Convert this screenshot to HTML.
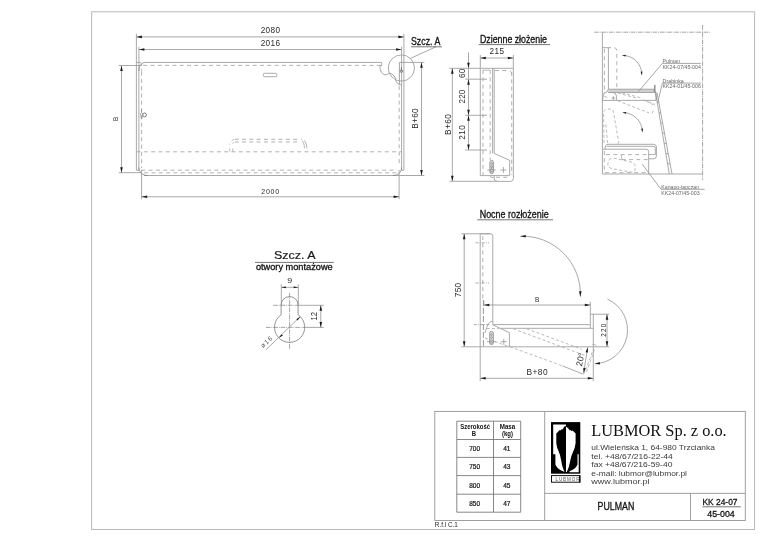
<!DOCTYPE html>
<html lang="pl">
<head>
<meta charset="utf-8">
<title>PULMAN KK 24-07 / 45-004</title>
<style>
html,body{margin:0;padding:0;background:#fff;}
body{width:768px;height:543px;overflow:hidden;}
svg{display:block;will-change:transform;}
text{font-family:"Liberation Sans",sans-serif;}
.f{fill:none;stroke:#b8b8b8;stroke-width:1;}
.f2{fill:none;stroke:#959595;stroke-width:0.9;}
.tb1{fill:none;stroke:#6a6a6a;stroke-width:0.8;}
.o{fill:none;stroke:#a0a0a0;stroke-width:0.9;}
.o2{fill:none;stroke:#8a8a8a;stroke-width:0.7;}
.o3{fill:none;stroke:#8a8a8a;stroke-width:1.4;}
.d{fill:none;stroke:#989898;stroke-width:0.85;}
.d2{fill:none;stroke:#666;stroke-width:0.9;}
.h{fill:none;stroke:#a8a8a8;stroke-width:0.9;stroke-dasharray:4 3.3;}
.h2{fill:none;stroke:#a8a8a8;stroke-width:0.8;}
.h3{fill:none;stroke:#a8a8a8;stroke-width:0.8;stroke-dasharray:3 2.2;}
.h4{fill:none;stroke:#6a6a6a;stroke-width:0.7;stroke-dasharray:6 2;}
.c{fill:none;stroke:#808080;stroke-width:0.7;stroke-dasharray:4.6 0.9 0.9 0.9;}
.c2{fill:none;stroke:#888;stroke-width:0.7;stroke-dasharray:3 1.2 0.8 1.2;}
.a{fill:#1a1a1a;stroke:none;}
.fill{fill:#cfcfcf;stroke:none;}
.o4{fill:none;stroke:#6c6c6c;stroke-width:0.9;}
.od{fill:none;stroke:#707070;stroke-width:0.65;}
.ok{fill:none;stroke:#787878;stroke-width:0.8;}
.ts3{fill:#555;}
.sl{fill:#e4e4e4;stroke:#808080;stroke-width:0.8;}
.t{fill:#2a2a2a;}
.tb{fill:#111;stroke:#111;stroke-width:0.3;}
.ts{fill:#666;}
.ts2{fill:#555;}
.tt{fill:#111;stroke:#111;stroke-width:0.2;}
.t2{fill:#222;}
.tth{fill:#111;font-weight:bold;}
.tm{fill:#1a1a1a;stroke:#1a1a1a;stroke-width:0.2;}
.ta{fill:#3a3a3a;}
.serif{font-family:"Liberation Serif",serif;fill:#111;}
</style>
</head>
<body>
<svg width="768" height="543" viewBox="0 0 768 543">
<rect x="0" y="0" width="768" height="543" fill="#fff"/>
<rect class="f" x="91.65" y="11.8" width="662.95" height="517.7"/>
<line class="o" x1="136.40" y1="33.80" x2="136.40" y2="170.30"/>
<line class="o" x1="403.90" y1="33.80" x2="403.90" y2="170.30"/>
<line class="o" x1="138.90" y1="46.80" x2="138.90" y2="170.30"/>
<line class="o" x1="401.60" y1="46.80" x2="401.60" y2="170.30"/>
<line class="d" x1="136.40" y1="36.90" x2="403.90" y2="36.90"/>
<polygon class="a" points="136.40,36.90 141.90,35.60 141.90,38.20"/>
<polygon class="a" points="403.90,36.90 398.40,38.20 398.40,35.60"/>
<line class="d" x1="138.90" y1="49.50" x2="401.60" y2="49.50"/>
<polygon class="a" points="138.90,49.50 144.40,48.20 144.40,50.80"/>
<polygon class="a" points="401.60,49.50 396.10,50.80 396.10,48.20"/>
<text class="t" x="270.30" y="33.30" font-size="8.2" text-anchor="middle" textLength="19.30" lengthAdjust="spacing">2080</text>
<text class="t" x="270.30" y="45.80" font-size="8.2" text-anchor="middle" textLength="19.30" lengthAdjust="spacing">2016</text>
<path class="o" d="M136.4,62.45 H140.4 Q141.6,63.5 142,65.2 M145.25,62.45 H381.7 V65.5"/>
<path class="od" d="M381.7,65.5 H380.2 C379.5,69 381,73.5 384.8,74.8 C387,75.2 388,73.6 389.3,73.4 C391,73.3 392.5,74.3 394,76 C395.8,78 395.5,80 396.3,81.8 C397,83.3 398.5,84 399.6,84.6"/>
<path class="o" d="M144,175.5 H396"/>
<path class="od" d="M138.9,167.5 C138.9,172 142.5,175.5 147.5,175.5 M401.6,167.5 C401.6,172 398,175.5 393,175.5"/>
<path class="od" d="M138.9,71 C138.9,66 141.5,62.5 145.25,62.45"/>
<line class="o" x1="136.40" y1="170.30" x2="138.90" y2="170.30"/>
<line class="o" x1="401.60" y1="170.30" x2="403.90" y2="170.30"/>
<path class="od" d="M399.4,84.8 V62.4"/>
<path class="o" d="M399.4,62.4 H424.3 M399.4,84.8 H401.6"/>
<line class="d" x1="395.00" y1="175.50" x2="424.30" y2="175.50"/>
<path class="h" d="M143.2,65.4 H381"/>
<path class="h" d="M141.6,71.6 V168"/>
<path class="h" d="M399.2,86 V165"/>
<path class="h2" d="M141.7,68.8 V71.6"/>
<path class="h" d="M141.3,170.2 H397"/>
<path class="h" d="M144.2,172.8 H397"/>
<path class="h" d="M136.6,151.8 H402"/>
<path class="h" d="M234.7,139.3 H298 M234.7,142 H298"/>
<path class="h2" d="M229.8,151.6 V148.3 M232.7,151.6 V148.3 M229.7,144.6 V143.8 M231.6,141 Q232.6,139.8 233.8,139.5 M232.6,143.6 Q233.3,142.5 234,142.2"/>
<path class="h2" d="M301,139.3 H301.8 M302.3,140.6 Q304.4,143.5 304.6,148.3 M304.4,140.4 Q306.8,143.5 307,148.5"/>
<rect class="o" x="263.4" y="73.3" width="13.4" height="3.4" rx="1"/>
<circle class="o4" cx="144.6" cy="114.9" r="1.9"/>
<path class="o2" d="M141.5,109 V113 M140.6,113 Q140.4,116.5 141.6,119 Q142.8,116.5 142.6,113"/>
<circle class="o4" cx="401.4" cy="71.2" r="1.2"/>
<path class="o4" d="M401.4,67.4 V70"/>
<line class="d" x1="118.70" y1="65.50" x2="141.60" y2="65.50"/>
<line class="d" x1="118.70" y1="172.70" x2="141.60" y2="172.70"/>
<line class="d" x1="121.50" y1="65.50" x2="121.50" y2="172.70"/>
<polygon class="a" points="121.50,65.50 122.80,71.00 120.20,71.00"/>
<polygon class="a" points="121.50,172.70 120.20,167.20 122.80,167.20"/>
<text class="t" x="0" y="0" font-size="6.3" text-anchor="middle" transform="translate(118.30,119.00) rotate(-90)">B</text>
<line class="d" x1="141.60" y1="170.00" x2="141.60" y2="199.20"/>
<line class="d" x1="399.10" y1="170.00" x2="399.10" y2="199.20"/>
<line class="d" x1="141.60" y1="196.80" x2="399.10" y2="196.80"/>
<polygon class="a" points="141.60,196.80 147.10,195.50 147.10,198.10"/>
<polygon class="a" points="399.10,196.80 393.60,198.10 393.60,195.50"/>
<text class="t" x="270.20" y="194.00" font-size="7" text-anchor="middle" textLength="18.00" lengthAdjust="spacing">2000</text>
<line class="d" x1="421.50" y1="62.30" x2="421.50" y2="175.50"/>
<polygon class="a" points="421.50,62.30 422.80,67.80 420.20,67.80"/>
<polygon class="a" points="421.50,175.50 420.20,170.00 422.80,170.00"/>
<text class="t" x="0" y="0" font-size="8.3" text-anchor="middle" transform="translate(418.20,118.50) rotate(-90)" textLength="20.50" lengthAdjust="spacing">B+60</text>
<circle class="o" cx="401.4" cy="68" r="13.1"/>
<line class="d" x1="410.60" y1="58.30" x2="436.00" y2="46.80"/>
<line class="d2" x1="411.00" y1="46.80" x2="442.00" y2="46.80"/>
<text class="tb" x="411.00" y="45.00" font-size="10.3" text-anchor="start" textLength="29.30" lengthAdjust="spacingAndGlyphs">Szcz. A</text>
<text class="tb" x="480.00" y="43.00" font-size="10.2" text-anchor="start" textLength="67.00" lengthAdjust="spacingAndGlyphs">Dzienne złożenie</text>
<line class="d2" x1="478.70" y1="44.60" x2="550.00" y2="44.60"/>
<text class="t" x="496.70" y="54.20" font-size="8.2" text-anchor="middle" textLength="14.50" lengthAdjust="spacing">215</text>
<line class="d" x1="480.30" y1="55.00" x2="480.30" y2="68.30"/>
<line class="d" x1="513.30" y1="55.00" x2="513.30" y2="68.30"/>
<line class="d" x1="480.30" y1="58.00" x2="513.30" y2="58.00"/>
<polygon class="a" points="480.30,58.00 485.80,56.70 485.80,59.30"/>
<polygon class="a" points="513.30,58.00 507.80,59.30 507.80,56.70"/>
<line class="d" x1="468.50" y1="52.50" x2="468.50" y2="150.00"/>
<polygon class="a" points="468.50,68.30 467.20,62.80 469.80,62.80"/>
<polygon class="a" points="468.50,79.20 469.80,84.70 467.20,84.70"/>
<polygon class="a" points="468.50,115.30 467.20,109.80 469.80,109.80"/>
<polygon class="a" points="468.50,115.30 469.80,120.80 467.20,120.80"/>
<polygon class="a" points="468.50,150.00 467.20,144.50 469.80,144.50"/>
<line class="d" x1="449.50" y1="68.30" x2="480.30" y2="68.30"/>
<line class="d" x1="465.30" y1="79.20" x2="487.00" y2="79.20"/>
<line class="d" x1="465.30" y1="115.30" x2="487.00" y2="115.30"/>
<line class="d" x1="465.30" y1="150.00" x2="487.00" y2="150.00"/>
<text class="t" x="0" y="0" font-size="8.2" text-anchor="middle" transform="translate(465.30,73.40) rotate(-90)" textLength="9.20" lengthAdjust="spacing">60</text>
<text class="t" x="0" y="0" font-size="8.2" text-anchor="middle" transform="translate(465.30,96.60) rotate(-90)" textLength="13.60" lengthAdjust="spacingAndGlyphs">220</text>
<text class="t" x="0" y="0" font-size="8.2" text-anchor="middle" transform="translate(465.30,132.50) rotate(-90)" textLength="14.50" lengthAdjust="spacing">210</text>
<line class="d" x1="452.30" y1="68.30" x2="452.30" y2="181.30"/>
<polygon class="a" points="452.30,68.30 453.60,73.80 451.00,73.80"/>
<polygon class="a" points="452.30,181.30 451.00,175.80 453.60,175.80"/>
<line class="d" x1="449.50" y1="181.30" x2="497.00" y2="181.30"/>
<text class="t" x="0" y="0" font-size="8.3" text-anchor="middle" transform="translate(450.80,124.60) rotate(-90)" textLength="20.80" lengthAdjust="spacing">B+60</text>
<path class="o" d="M480.3,68.3 V175.6 H509.7 V160.4 L494.2,153.4"/>
<line class="o" x1="480.30" y1="68.30" x2="513.30" y2="68.30"/>
<line class="o" x1="492.60" y1="68.30" x2="492.60" y2="153.40"/>
<line class="o" x1="494.20" y1="68.30" x2="494.20" y2="153.40"/>
<path class="o" d="M513.4,68.3 V178.4 Q513.4,181.4 510.4,181.4 H497.2 Q494.2,181.4 494.2,178.4 V175.6"/>
<path class="o" d="M490.2,175.6 Q490.4,177.6 493.5,177.8"/>
<path class="h" d="M483,70 V175"/>
<path class="h" d="M490.2,70 V160"/>
<path class="h" d="M511.7,72 V175"/>
<path class="h" d="M496,177.3 H510"/>
<path class="h" d="M495,70.5 H508 Q511.7,70.5 511.7,74"/>
<path class="h2" d="M483,70.2 H490"/>
<rect class="sl" x="489.9" y="160.4" width="3.5" height="13.3" rx="1.75"/>
<circle class="o2" cx="491.7" cy="163.6" r="0.9"/><circle class="o2" cx="491.7" cy="166.6" r="0.9"/><circle class="o2" cx="491.7" cy="170.6" r="1.5"/>
<path class="c2" d="M487.3,170 H495.8 M491.7,167 V173"/>
<path class="o2" d="M500.4,170 H506.4 M503.4,167 V173"/>
<line class="c" x1="594.20" y1="32.20" x2="710.70" y2="32.20"/>
<line class="c" x1="702.60" y1="25.00" x2="702.60" y2="180.00"/>
<line class="o" x1="602.40" y1="32.20" x2="602.40" y2="174.00"/>
<line class="o" x1="602.40" y1="174.00" x2="702.60" y2="174.00"/>
<line class="o" x1="602.40" y1="47.70" x2="611.00" y2="47.70"/>
<line class="o" x1="608.40" y1="47.70" x2="608.40" y2="89.20"/>
<path class="h" d="M604.4,49 V92"/>
<path class="h" d="M614.5,47.7 Q616.8,48 616.8,51 V89"/>
<path class="d" d="M622.27,55.41 A19.00,19.00 0 0 1 641.79,75.00"/>
<polygon class="a" points="622.27,55.41 625.73,54.72 625.59,56.62"/>
<polygon class="a" points="641.79,75.00 640.59,71.68 642.49,71.54"/>
<path class="d" d="M622.70,112.50 A19.90,19.90 0 0 1 642.50,131.98"/>
<polygon class="a" points="622.70,112.50 626.19,111.93 625.98,113.82"/>
<polygon class="a" points="642.50,131.98 641.13,128.73 643.01,128.49"/>
<rect class="fill" x="608.4" y="89.2" width="46.4" height="3.3"/>
<path class="o" d="M608.4,89.2 H654.8 M608.4,92.5 H654.8"/>
<line class="o" x1="602.40" y1="100.40" x2="656.00" y2="100.40"/>
<path class="o" d="M602.4,100.4 L604,92.8 L607,92 L608.4,89.2 M608.4,92.5 H613 Q616.4,93 616.4,96 V100.4"/>
<line class="o3" x1="654.80" y1="85.00" x2="654.80" y2="92.50"/>
<path class="o2" d="M613.3,96.2 V100 M611.6,98 H615"/>
<path class="h3" d="M618,93 L636,98 M622,92.8 L640,97.6 M604.5,96.5 L608,97.6"/>
<path class="h3" d="M617.7,100.8 L649.3,113 M643.5,99.8 L655,104.5 M646,101 L655.5,106"/>
<path class="h3" d="M652.2,113.4 L653.6,109.5"/>
<line class="o" x1="655.50" y1="92.50" x2="669.30" y2="174.00"/>
<line class="o" x1="657.00" y1="92.50" x2="672.00" y2="174.00"/>
<line class="o2" x1="657.23" y1="102.29" x2="658.88" y2="102.99"/>
<line class="o2" x1="658.95" y1="112.47" x2="660.75" y2="113.17"/>
<line class="o2" x1="660.67" y1="122.66" x2="662.62" y2="123.36"/>
<line class="o2" x1="662.40" y1="132.85" x2="664.50" y2="133.55"/>
<line class="o2" x1="664.12" y1="143.04" x2="666.38" y2="143.74"/>
<line class="o2" x1="665.85" y1="153.22" x2="668.25" y2="153.93"/>
<line class="o2" x1="667.57" y1="163.41" x2="670.12" y2="164.11"/>
<path class="od" d="M653.4,90.6 L656,92.6 V100.2"/>
<path class="h3" d="M604,143 L603.6,113 Q603.8,109.4 607,109.2 L610,109 Q613.2,109 613.6,112.5 L618.5,141.5 Q619,144 616.5,144.6"/>
<path class="h3" d="M607.7,143 L605.6,122"/>
<path class="o" d="M605,149.2 Q605,144.3 608,144.3 H653.6 Q656.4,144.3 656.4,147 V156 Q656.4,158.8 653.6,158.8 H648.7"/>
<path class="o2" d="M606.5,146.3 H653 Q655.3,146.3 655.3,148.2 V154.6 H648.7"/>
<path class="o" d="M602.4,149.2 H646.2 Q648.7,149.2 648.7,151.7 V174"/>
<path class="h" d="M606,154.6 H648 M621.8,159.6 H648 M605,172.7 H648"/>
<path class="h" d="M604.3,151 V173"/>
<path class="h2" d="M621.6,155 V158.5 Q621.6,159.6 623,159.6"/>
<path class="h3" d="M609,160 Q611,157.6 615,158.4 L631,162 Q635.5,163.2 635.3,167 L635,170 Q634,172.5 630,172 L612,168.6 Q607.6,167.6 607.8,164 Z"/>
<text class="ts" x="662.60" y="62.80" font-size="5.3" text-anchor="start" textLength="17.50" lengthAdjust="spacingAndGlyphs">Pulman</text>
<line class="d" x1="662.40" y1="63.40" x2="700.90" y2="63.40"/>
<text class="ts" x="662.60" y="68.70" font-size="5.3" text-anchor="start" textLength="38.30" lengthAdjust="spacingAndGlyphs">KK24-07/45-004</text>
<line class="d" x1="662.40" y1="63.40" x2="638.30" y2="91.70"/>
<text class="ts" x="662.60" y="82.50" font-size="5.3" text-anchor="start" textLength="21.20" lengthAdjust="spacingAndGlyphs">Drabinka</text>
<line class="d" x1="662.40" y1="83.10" x2="700.90" y2="83.10"/>
<text class="ts" x="662.60" y="88.40" font-size="5.3" text-anchor="start" textLength="38.30" lengthAdjust="spacingAndGlyphs">KK24-01/45-006</text>
<line class="d" x1="662.40" y1="83.10" x2="657.60" y2="102.50"/>
<text class="ts" x="661.30" y="188.70" font-size="5.3" text-anchor="start" textLength="37.80" lengthAdjust="spacingAndGlyphs">Kanapo-tapczan</text>
<line class="d" x1="661.10" y1="189.30" x2="704.70" y2="189.30"/>
<text class="ts" x="661.30" y="194.60" font-size="5.3" text-anchor="start" textLength="38.30" lengthAdjust="spacingAndGlyphs">KK24-07/45-003</text>
<line class="d" x1="661.10" y1="189.30" x2="642.20" y2="164.20"/>
<text class="tb" x="479.70" y="218.30" font-size="10.2" text-anchor="start" textLength="69.00" lengthAdjust="spacingAndGlyphs">Nocne rozłożenie</text>
<line class="d2" x1="477.20" y1="219.80" x2="553.00" y2="219.80"/>
<line class="d" x1="461.30" y1="233.80" x2="490.50" y2="233.80"/>
<path class="o" d="M480.2,233.8 H490.6 Q492.8,233.8 492.8,236 V324.4"/>
<line class="o" x1="480.20" y1="233.80" x2="480.20" y2="381.00"/>
<path class="h" d="M482.8,236 V300"/>
<path class="h4" d="M483.4,300 V347"/>
<path class="c2" d="M475.5,242.8 H489 M475.5,283 H489 M473.8,324.6 H490"/>
<line class="d" x1="464.20" y1="233.80" x2="464.20" y2="346.80"/>
<polygon class="a" points="464.20,233.80 465.50,239.30 462.90,239.30"/>
<polygon class="a" points="464.20,346.80 462.90,341.30 465.50,341.30"/>
<text class="t" x="0" y="0" font-size="8.4" text-anchor="middle" transform="translate(461.20,290.00) rotate(-90)" textLength="14.50" lengthAdjust="spacing">750</text>
<line class="o" x1="461.30" y1="346.80" x2="609.20" y2="346.80"/>
<line class="d" x1="483.80" y1="300.80" x2="483.80" y2="306.00"/>
<line class="o" x1="590.30" y1="301.70" x2="590.30" y2="328.30"/>
<line class="d" x1="483.80" y1="305.00" x2="590.30" y2="305.00"/>
<polygon class="a" points="483.80,305.00 489.30,303.70 489.30,306.30"/>
<polygon class="a" points="590.30,305.00 584.80,306.30 584.80,303.70"/>
<text class="t" x="537.10" y="301.70" font-size="6.5" text-anchor="middle">B</text>
<path class="o" d="M492.8,324.6 H589.3 L590.3,325.6"/>
<path class="o" d="M500.5,328.3 H593.3"/>
<path class="o2" d="M485,333 Q486.5,327 488.5,323.6 Q490,321.3 492.6,321.2"/>
<path class="o" d="M492.8,324.8 L509.4,332.7 V346.8"/>
<rect class="sl" x="489.7" y="331.4" width="3.6" height="13.2" rx="1.8"/>
<circle class="o2" cx="491.5" cy="334.6" r="0.9"/><circle class="o2" cx="491.5" cy="337.6" r="0.9"/><circle class="o2" cx="491.5" cy="341.8" r="1.5"/>
<path class="c2" d="M487,341.7 H496"/>
<path class="o2" d="M500.8,341.7 H506.8 M503.8,338.7 V344.7"/>
<path class="h3" d="M486.7,328.5 H499"/>
<path class="h3" d="M526.8,328.8 L582,349.3"/>
<path class="h3" d="M513.3,328.8 L585.2,355.6"/>
<path class="h3" d="M485,338 L509,346.6"/>
<path class="h3" d="M510,346.8 L562.5,365.9"/>
<path class="o" d="M562.5,365.9 L583.3,374.2"/>
<path class="h3" d="M583.3,374.2 L585,372 L593,350"/>
<path class="h3" d="M586.5,372 L594.5,349.5"/>
<path class="h2" d="M592.5,344.5 Q595.5,343.5 596.2,346 "/>
<line class="o" x1="593.30" y1="314.20" x2="593.30" y2="381.00"/>
<line class="d" x1="590.30" y1="314.20" x2="609.20" y2="314.20"/>
<line class="d" x1="607.00" y1="314.20" x2="607.00" y2="346.80"/>
<polygon class="a" points="607.00,314.20 608.30,319.70 605.70,319.70"/>
<polygon class="a" points="607.00,346.80 605.70,341.30 608.30,341.30"/>
<text class="t" x="0" y="0" font-size="6.4" text-anchor="middle" transform="translate(605.60,330.30) rotate(-90)" textLength="13.00" lengthAdjust="spacing">220</text>
<path class="d" d="M520.28,236.25 A57.80,57.80 0 0 1 580.34,296.72"/>
<polygon class="a" points="520.28,236.25 525.80,235.01 525.76,237.61"/>
<polygon class="a" points="580.34,296.72 579.01,291.23 581.61,291.22"/>
<path class="d" d="M607.50,299.15 A33.80,33.80 0 0 1 594.70,363.79"/>
<polygon class="a" points="594.70,363.79 599.72,361.89 600.02,364.47"/>
<line class="d" x1="587.60" y1="347.50" x2="583.70" y2="372.80"/>
<polygon class="a" points="587.60,347.40 588.05,352.53 585.58,352.14"/>
<polygon class="a" points="583.70,373.00 583.25,367.87 585.72,368.26"/>
<text class="t" x="0" y="0" font-size="8.6" text-anchor="middle" transform="translate(583.20,360.20) rotate(-77)" textLength="13.40" lengthAdjust="spacing">20°</text>
<line class="d" x1="480.20" y1="378.30" x2="593.30" y2="378.30"/>
<polygon class="a" points="480.20,378.30 485.70,377.00 485.70,379.60"/>
<polygon class="a" points="593.30,378.30 587.80,379.60 587.80,377.00"/>
<text class="t" x="537.00" y="374.70" font-size="8.4" text-anchor="middle" textLength="21.20" lengthAdjust="spacing">B+80</text>
<text class="tm" x="294.70" y="258.90" font-size="10.9" text-anchor="middle" textLength="41.60" lengthAdjust="spacingAndGlyphs">Szcz. A</text>
<line class="d2" x1="255.00" y1="262.40" x2="333.80" y2="262.40"/>
<text class="tb" x="294.30" y="270.20" font-size="9.3" text-anchor="middle" textLength="76.80" lengthAdjust="spacingAndGlyphs">otwory montażowe</text>
<text class="t" x="289.60" y="283.40" font-size="8" text-anchor="middle" textLength="4.90" lengthAdjust="spacingAndGlyphs">9</text>
<line class="d" x1="281.30" y1="284.30" x2="281.30" y2="305.10"/>
<line class="d" x1="298.30" y1="284.30" x2="298.30" y2="305.10"/>
<line class="d" x1="281.30" y1="287.30" x2="298.30" y2="287.30"/>
<polygon class="a" points="281.30,287.30 285.90,286.40 285.90,288.20"/>
<polygon class="a" points="298.30,287.30 293.70,288.20 293.70,286.40"/>
<path class="ok" d="M281.1,314.8 V305.1 A8.5,8.5 0 0 1 298.1,305.1 V314.8 A15.1,15.1 0 1 1 281.1,314.8 Z"/>
<line class="c" x1="289.60" y1="292.90" x2="289.60" y2="349.60"/>
<line class="c" x1="273.20" y1="305.30" x2="298.00" y2="305.30"/>
<line class="d" x1="298.00" y1="305.30" x2="323.80" y2="305.30"/>
<line class="c" x1="266.00" y1="327.40" x2="305.00" y2="327.40"/>
<line class="d" x1="305.00" y1="327.40" x2="323.80" y2="327.40"/>
<line class="d" x1="320.80" y1="305.30" x2="320.80" y2="327.40"/>
<polygon class="a" points="320.80,305.30 322.10,310.80 319.50,310.80"/>
<polygon class="a" points="320.80,327.40 319.50,321.90 322.10,321.90"/>
<text class="t" x="0" y="0" font-size="8.4" text-anchor="middle" transform="translate(317.40,316.20) rotate(-90)" textLength="8.60" lengthAdjust="spacingAndGlyphs">12</text>
<line class="d" x1="266.10" y1="349.60" x2="300.30" y2="316.60"/>
<polygon class="a" points="300.30,316.60 297.62,320.44 296.37,319.15"/>
<polygon class="a" points="278.90,338.00 281.58,334.16 282.83,335.45"/>
<text class="ts3" x="0" y="0" font-size="6.5" text-anchor="middle" transform="translate(267.90,343.60) rotate(-43)" textLength="13.60" lengthAdjust="spacing">ø16</text>
<rect class="f2" x="434.8" y="411.4" width="310.5" height="109.1"/>
<line class="f2" x1="544.70" y1="411.40" x2="544.70" y2="520.50"/>
<line class="f2" x1="544.70" y1="493.40" x2="745.30" y2="493.40"/>
<line class="f2" x1="690.50" y1="493.40" x2="690.50" y2="520.50"/>
<line class="tb1" x1="456.80" y1="421.20" x2="520.70" y2="421.20"/>
<line class="tb1" x1="456.80" y1="439.50" x2="520.70" y2="439.50"/>
<line class="tb1" x1="456.80" y1="457.40" x2="520.70" y2="457.40"/>
<line class="tb1" x1="456.80" y1="475.60" x2="520.70" y2="475.60"/>
<line class="tb1" x1="456.80" y1="494.20" x2="520.70" y2="494.20"/>
<line class="tb1" x1="456.80" y1="512.20" x2="520.70" y2="512.20"/>
<line class="tb1" x1="456.80" y1="421.20" x2="456.80" y2="512.20"/>
<line class="tb1" x1="493.50" y1="421.20" x2="493.50" y2="512.20"/>
<line class="tb1" x1="520.70" y1="421.20" x2="520.70" y2="512.20"/>
<text class="tth" x="475.20" y="429.20" font-size="6.6" text-anchor="middle" textLength="29.80" lengthAdjust="spacingAndGlyphs">Szerokość</text>
<text class="tth" x="474.00" y="436.30" font-size="6.6" text-anchor="middle" textLength="4.30" lengthAdjust="spacingAndGlyphs">B</text>
<text class="tth" x="507.50" y="429.20" font-size="6.6" text-anchor="middle" textLength="15.60" lengthAdjust="spacingAndGlyphs">Masa</text>
<text class="tth" x="507.50" y="436.30" font-size="6.6" text-anchor="middle" textLength="11.00" lengthAdjust="spacingAndGlyphs">(kg)</text>
<text class="tt" x="474.60" y="450.60" font-size="7.3" text-anchor="middle" textLength="10.90" lengthAdjust="spacingAndGlyphs">700</text>
<text class="tt" x="506.80" y="450.60" font-size="7.3" text-anchor="middle" textLength="7.30" lengthAdjust="spacingAndGlyphs">41</text>
<text class="tt" x="474.60" y="469.40" font-size="7.3" text-anchor="middle" textLength="10.90" lengthAdjust="spacingAndGlyphs">750</text>
<text class="tt" x="506.80" y="469.40" font-size="7.3" text-anchor="middle" textLength="7.30" lengthAdjust="spacingAndGlyphs">43</text>
<text class="tt" x="474.60" y="487.90" font-size="7.3" text-anchor="middle" textLength="10.90" lengthAdjust="spacingAndGlyphs">800</text>
<text class="tt" x="506.80" y="487.90" font-size="7.3" text-anchor="middle" textLength="7.30" lengthAdjust="spacingAndGlyphs">45</text>
<text class="tt" x="474.60" y="506.30" font-size="7.3" text-anchor="middle" textLength="10.90" lengthAdjust="spacingAndGlyphs">850</text>
<text class="tt" x="506.80" y="506.30" font-size="7.3" text-anchor="middle" textLength="7.30" lengthAdjust="spacingAndGlyphs">47</text>
<text class="t2" x="434.80" y="526.80" font-size="6.6" text-anchor="start" textLength="23.00" lengthAdjust="spacingAndGlyphs">R.f.l C.1</text>
<rect x="551" y="422.1" width="29.3" height="51.6" fill="#000"/>
<path fill="#fff" d="M553.2,424.4 H566 V426 L564.3,426.6 L562.6,429.5 L561.6,429.2 L560.6,430.5 L559.8,430 L556.3,433.4 V443.5 Q557,448 558.3,450.5 Q560.5,455 561.3,461 Q562.3,468 564.6,471.8 L563.5,471.5 Q557.5,469.5 555.4,464.5 V454.2 H553.2 Z"/>
<path fill="#fff" d="M566,426.6 L568.4,428.4 L569.8,430.6 L570.6,430 L571.6,431.2 L572.6,430.6 L575.6,433.4 V443 Q575,448 573.4,451 Q571.2,455.5 570.2,461 Q569,468 566.8,471.9 H566 Z"/>
<path fill="#fff" d="M577.5,454.2 H578.7 V472.2 H569.5 V471.3 Q575.6,469.3 577.5,464.5 Z"/>
<rect x="551.5" y="475.6" width="28.4" height="6.6" fill="#fff" stroke="#111" stroke-width="1"/>
<rect x="579" y="475.4" width="1.4" height="7" fill="#111"/>
<text class="ts2" x="555.50" y="480.70" font-size="4.6" text-anchor="start" textLength="24.00" lengthAdjust="spacing">LUBMOR</text>
<text class="serif" x="591.30" y="435.50" font-size="16.5" text-anchor="start" textLength="135.40" lengthAdjust="spacingAndGlyphs">LUBMOR Sp. z o.o.</text>
<text class="ta" x="591.30" y="449.60" font-size="7.8" text-anchor="start" textLength="123.60" lengthAdjust="spacingAndGlyphs">ul.Wieleńska 1, 64-980 Trzcianka</text>
<text class="ta" x="591.30" y="458.80" font-size="7.8" text-anchor="start" textLength="81.50" lengthAdjust="spacingAndGlyphs">tel. +48/67/216-22-44</text>
<text class="ta" x="591.30" y="467.10" font-size="7.8" text-anchor="start" textLength="81.10" lengthAdjust="spacingAndGlyphs">fax +48/67/216-59-40</text>
<text class="ta" x="591.30" y="475.90" font-size="7.8" text-anchor="start" textLength="95.70" lengthAdjust="spacingAndGlyphs">e-mail: lubmor@lubmor.pl</text>
<text class="ta" x="591.30" y="484.40" font-size="7.8" text-anchor="start" textLength="58.30" lengthAdjust="spacingAndGlyphs">www.lubmor.pl</text>
<text class="tb" x="615.90" y="509.70" font-size="10.4" text-anchor="middle" textLength="36.70" lengthAdjust="spacingAndGlyphs">PULMAN</text>
<text class="tb" x="720.00" y="505.00" font-size="9.9" text-anchor="middle" textLength="35.00" lengthAdjust="spacingAndGlyphs">KK 24-07</text>
<line class="d2" x1="702.50" y1="506.80" x2="740.80" y2="506.80"/>
<text class="tb" x="721.00" y="516.60" font-size="9.9" text-anchor="middle" textLength="27.50" lengthAdjust="spacingAndGlyphs">45-004</text>
</svg>
</body>
</html>
